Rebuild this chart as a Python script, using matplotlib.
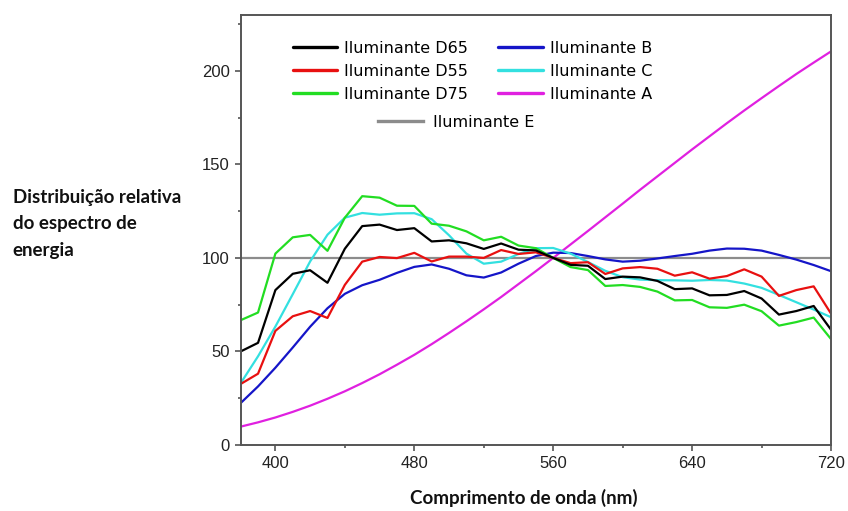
import matplotlib
matplotlib.use('Agg')
import matplotlib.pyplot as plt
from matplotlib.ticker import MultipleLocator

# wavelength grid (nm) and relative spectral power of each illuminant
wl = [380, 390, 400, 410, 420, 430, 440, 450, 460, 470, 480, 490, 500, 510,
      520, 530, 540, 550, 560, 570, 580, 590, 600, 610, 620, 630, 640, 650,
      660, 670, 680, 690, 700, 710, 720]

d65 = [50.0, 54.6, 82.8, 91.5, 93.4, 86.7, 104.9, 117.0, 117.8, 114.9, 115.9,
       108.8, 109.4, 107.8, 104.8, 107.7, 104.4, 104.0, 100.0, 96.3, 95.8,
       88.7, 90.0, 89.6, 87.7, 83.3, 83.7, 80.0, 80.2, 82.3, 78.3, 69.7,
       71.6, 74.3, 61.6]
d55 = [32.6, 38.1, 61.0, 68.8, 71.6, 67.9, 85.6, 98.0, 100.5, 99.9, 102.7,
       98.1, 100.7, 100.7, 100.0, 104.2, 102.1, 103.0, 100.0, 97.2, 97.7,
       91.4, 94.4, 95.1, 94.2, 90.5, 92.3, 88.9, 90.3, 93.9, 90.0, 79.7,
       82.8, 84.8, 70.2]
d75 = [66.7, 70.8, 102.3, 111.0, 112.3, 103.8, 121.5, 133.0, 132.2, 127.9,
       127.8, 118.3, 117.2, 114.2, 109.4, 111.3, 106.6, 105.2, 100.0, 95.1,
       93.5, 85.0, 85.5, 84.5, 82.0, 77.3, 77.5, 73.6, 73.3, 75.0, 71.5,
       63.8, 65.7, 68.1, 56.6]
ill_b = [22.4, 31.3, 41.3, 52.1, 63.2, 73.1, 80.8, 85.4, 88.3, 92.0, 95.2,
         96.5, 94.2, 90.7, 89.5, 92.2, 96.9, 101.0, 102.8, 102.6, 101.0,
         99.2, 98.0, 98.5, 99.7, 101.0, 102.2, 103.9, 105.0, 104.9, 103.9,
         101.6, 99.1, 96.2, 92.9]
ill_c = [33.0, 47.4, 63.3, 80.6, 98.1, 112.4, 121.5, 124.0, 123.1, 123.8,
         123.9, 120.7, 112.1, 102.3, 96.9, 98.0, 102.1, 105.2, 105.3, 102.3,
         97.8, 93.1, 89.7, 88.4, 88.1, 88.0, 87.8, 88.2, 87.9, 86.3, 84.0,
         80.2, 76.3, 72.4, 68.3]
ill_a = [9.8, 12.1, 14.7, 17.7, 21.0, 24.7, 28.7, 33.1, 37.8, 42.9, 48.2,
         53.9, 59.9, 66.1, 72.5, 79.1, 86.0, 92.9, 100.0, 107.2, 114.4,
         121.7, 129.0, 136.4, 143.6, 150.8, 158.0, 165.0, 172.0, 178.8,
         185.4, 191.9, 198.3, 204.4, 210.4]
e_wl = [380, 720]
ill_e = [100, 100]

fig = plt.figure(figsize=(8.48, 5.11), dpi=100)
ax = fig.add_axes([0.2838, 0.1292, 0.6962, 0.842])

lw = 1.6
kw = dict(lw=lw, solid_joinstyle='round', solid_capstyle='round')
l_e, = ax.plot(e_wl, ill_e, color='#8c8c8c', lw=lw, label='Iluminante E')
l_a, = ax.plot(wl, ill_a, color='#e020e0', label='Iluminante A', **kw)
l_b, = ax.plot(wl, ill_b, color='#1515c8', label='Iluminante B', **kw)
l_c, = ax.plot(wl, ill_c, color='#33e0e0', label='Iluminante C', **kw)
l_55, = ax.plot(wl, d55, color='#e81010', label='Iluminante D55', **kw)
l_75, = ax.plot(wl, d75, color='#22dd22', label='Iluminante D75', **kw)
l_65, = ax.plot(wl, d65, color='black', label='Iluminante D65', **kw)

ax.set_xlim(380, 720)
ax.set_ylim(0, 230)
ax.xaxis.set_minor_locator(MultipleLocator(40))
ax.set_xticks([400, 480, 560, 640, 720])
ax.yaxis.set_major_locator(MultipleLocator(50))
ax.yaxis.set_minor_locator(MultipleLocator(25))

spine_c = '#555555'
for s in ax.spines.values():
    s.set_color(spine_c)
    s.set_linewidth(1.4)
ax.tick_params(which='major', direction='out', length=4, width=1.2,
               color=spine_c, labelsize=12, labelcolor='#222222', pad=4)
ax.tick_params(which='minor', direction='out', length=2.5, width=1.2,
               color=spine_c)
for lab in ax.get_xticklabels() + ax.get_yticklabels():
    lab.set_family('Liberation Sans')

# legend: two columns of three, then E centred below
leg_font = {'family': 'DejaVu Sans', 'size': 11.5}
leg1 = ax.legend([l_65, l_55, l_75, l_b, l_c, l_a],
                 ['Iluminante D65', 'Iluminante D55', 'Iluminante D75',
                  'Iluminante B', 'Iluminante C', 'Iluminante A'],
                 ncol=2, loc='upper left', bbox_to_anchor=(0.088, 0.94),
                 frameon=False, prop=leg_font, handlelength=2.8,
                 handletextpad=0.44, columnspacing=1.85, labelspacing=0.5,
                 borderpad=0, borderaxespad=0)
for h in leg1.get_lines():
    h.set_linewidth(2.4)
ax.add_artist(leg1)
leg2 = ax.legend([l_e], ['Iluminante E'], loc='upper left',
                 bbox_to_anchor=(0.233, 0.768), frameon=False, prop=leg_font,
                 handlelength=2.8, handletextpad=0.6, borderpad=0,
                 borderaxespad=0)
for h in leg2.get_lines():
    h.set_linewidth(2.4)

lab_font = dict(family='Lato', weight='bold', size=13.5, color='#111111')
fig.text(0.015, 0.562, 'Distribuição relativa\ndo espectro de\nenergia',
         ha='left', va='center', linespacing=1.68, **lab_font)
fig.text(0.618, 0.026, 'Comprimento de onda (nm)', ha='center',
         va='center', **lab_font)

fig.savefig('out.png', dpi=100)
